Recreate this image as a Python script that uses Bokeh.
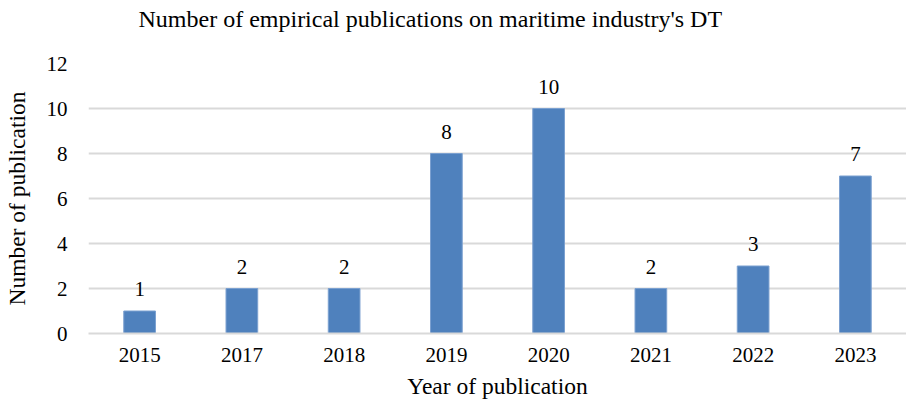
from bokeh.plotting import figure
from bokeh.models import ColumnDataSource, FactorRange, Range1d, FixedTicker, LabelSet, Title
from bokeh.embed import file_html
from bokeh.resources import INLINE

years = ["2015", "2017", "2018", "2019", "2020", "2021", "2022", "2023"]
counts = [1, 2, 2, 8, 10, 2, 3, 7]
y_ticks = [0, 2, 4, 6, 8, 10, 12]
title_text = "Number of empirical publications on maritime industry's DT"

FONT = "Liberation Serif"

src = ColumnDataSource(dict(year=years, count=counts, label=[str(c) for c in counts]))

p = figure(width=906, height=401, x_range=FactorRange(*years), y_range=Range1d(0, 12),
           output_backend="svg", toolbar_location=None,
           min_border_left=87, min_border_right=0, min_border_top=63, min_border_bottom=68)

p.vbar(x="year", top="count", width=0.31, source=src,
       fill_color="#4f81bd", line_color="#7ba0d0", line_width=1)

labels = LabelSet(x="year", y="count", text="label", source=src,
                  text_align="center", text_baseline="middle", y_offset=22,
                  text_font=FONT, text_font_size="21px", text_color="black")
p.add_layout(labels)

# spacer between frame and title
p.add_layout(Title(text=" ", text_font_size="1px", standoff=26), "above")
p.add_layout(Title(text=title_text, align="left", offset=50, standoff=6,
                   text_font=FONT, text_font_size="24px", text_font_style="normal",
                   text_color="black"), "above")

p.outline_line_color = None
p.background_fill_color = "white"
p.border_fill_color = "white"

p.xgrid.grid_line_color = None
p.ygrid.grid_line_color = "#d9d9d9"
p.ygrid.grid_line_width = 2
p.yaxis.ticker = FixedTicker(ticks=y_ticks)

for ax in (p.xaxis[0], p.yaxis[0]):
    ax.major_tick_line_color = None
    ax.minor_tick_line_color = None
    ax.major_tick_in = 0
    ax.major_tick_out = 0
    ax.major_label_text_font = FONT
    ax.major_label_text_font_size = "21px"
    ax.major_label_text_color = "black"
    ax.axis_label_text_font = FONT
    ax.axis_label_text_font_size = "23.5px"
    ax.axis_label_text_font_style = "normal"
    ax.axis_label_text_color = "black"

p.xaxis.axis_label = "Year of publication"
p.yaxis.axis_label = "Number of publication"
p.xaxis.axis_line_color = "#d9d9d9"
p.xaxis.axis_line_width = 2
p.yaxis.axis_line_color = None
p.xaxis.major_label_standoff = 14
p.xaxis.axis_label_standoff = 8
p.yaxis.major_label_standoff = 21
p.yaxis.axis_label_standoff = 14

open("out.html", "w").write(file_html(p, INLINE))
